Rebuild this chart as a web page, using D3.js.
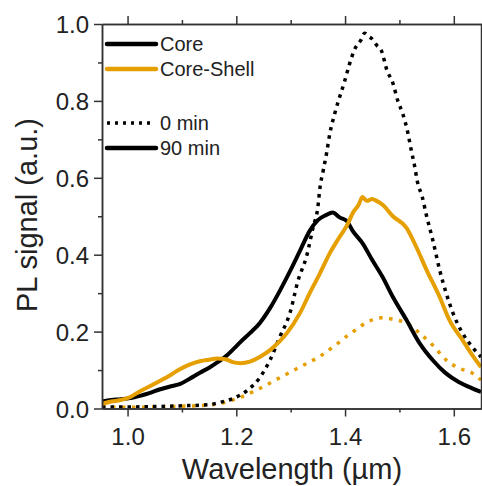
<!DOCTYPE html>
<html>
<head>
<meta charset="utf-8">
<script src="https://cdn.jsdelivr.net/npm/d3@7"></script>
<style>
  html, body { margin: 0; padding: 0; background: #fff; }
  svg { display: block; font-family: "Liberation Sans", Arial, sans-serif; }
</style>
</head>
<body>
<svg id="chart" width="482" height="486"></svg>
<script>
// ---- Data ----
const coreWl90 = [0.953,0.97,0.987,1.005,1.023,1.04,1.06,1.08,1.097,1.115,1.133,1.15,1.165,1.18,1.195,1.207,1.225,1.243,1.262,1.28,1.299,1.317,1.335,1.35,1.365,1.377,1.39,1.403,1.414,1.432,1.45,1.469,1.488,1.513,1.537,1.561,1.585,1.609,1.633,1.65];
const coreVal90 = [0.018,0.022,0.024,0.027,0.033,0.040,0.050,0.058,0.064,0.078,0.093,0.106,0.120,0.135,0.155,0.172,0.196,0.222,0.261,0.306,0.358,0.410,0.462,0.490,0.503,0.510,0.497,0.488,0.462,0.430,0.386,0.342,0.290,0.230,0.170,0.126,0.092,0.069,0.053,0.043];

const shellWl90 = [0.953,0.97,0.987,1.005,1.023,1.04,1.06,1.08,1.097,1.115,1.133,1.15,1.165,1.18,1.195,1.207,1.225,1.243,1.262,1.28,1.293,1.317,1.335,1.354,1.372,1.39,1.405,1.414,1.425,1.432,1.44,1.45,1.458,1.469,1.488,1.513,1.531,1.55,1.574,1.592,1.616,1.634,1.65];
const shellVal90 = [0.012,0.018,0.022,0.030,0.045,0.057,0.072,0.088,0.103,0.115,0.123,0.127,0.130,0.128,0.120,0.118,0.122,0.134,0.152,0.175,0.196,0.248,0.300,0.352,0.404,0.446,0.480,0.508,0.530,0.550,0.540,0.545,0.540,0.530,0.500,0.470,0.420,0.360,0.290,0.230,0.178,0.139,0.108];

const coreWl0 = [0.953,1.0,1.05,1.1,1.15,1.17,1.194,1.22,1.243,1.262,1.28,1.299,1.313,1.33,1.341,1.35,1.354,1.36,1.366,1.372,1.381,1.39,1.399,1.408,1.417,1.43,1.436,1.443,1.449,1.458,1.467,1.477,1.488,1.497,1.506,1.515,1.522,1.528,1.533,1.542,1.55,1.561,1.574,1.586,1.598,1.616,1.634,1.65];
const coreVal0 = [0.004,0.004,0.005,0.007,0.010,0.016,0.026,0.047,0.080,0.126,0.186,0.250,0.330,0.400,0.470,0.524,0.576,0.620,0.664,0.715,0.767,0.810,0.850,0.895,0.932,0.960,0.976,0.968,0.962,0.945,0.930,0.880,0.846,0.800,0.767,0.720,0.670,0.630,0.590,0.550,0.500,0.440,0.360,0.300,0.250,0.196,0.160,0.134];

const shellWl0 = [0.953,1.0,1.05,1.1,1.15,1.17,1.207,1.243,1.28,1.317,1.354,1.385,1.405,1.414,1.44,1.467,1.488,1.513,1.537,1.561,1.586,1.609,1.634,1.65];
const shellVal0 = [0.004,0.003,0.004,0.006,0.009,0.013,0.029,0.052,0.080,0.108,0.136,0.168,0.190,0.199,0.224,0.236,0.232,0.222,0.196,0.165,0.126,0.105,0.092,0.074];

const xMajorTicks = [1.0, 1.2, 1.4, 1.6];
const xMinorTicks = [1.1, 1.3, 1.5];
const yMajorTicks = [0.0, 0.2, 0.4, 0.6, 0.8, 1.0];
const yMinorTicks = [0.1, 0.3, 0.5, 0.7, 0.9];

const legendItems = ["Core", "Core-Shell", "0 min", "90 min"];
const ORANGE = "#E69F00";

// ---- Layout ----
const svg = d3.select("#chart");
const L = 102, T = 24, R = 481, B = 408.5;
const x = d3.scaleLinear().domain([0.953, 1.65]).range([L, R]);
const y = d3.scaleLinear().domain([0, 1.0]).range([B, T]);

svg.append("defs").append("clipPath").attr("id", "clip")
  .append("rect").attr("x", L).attr("y", T).attr("width", R - L).attr("height", B - T);

const line = d3.line().x(d => x(d[0])).y(d => y(d[1])).curve(d3.curveMonotoneX);
const zip = (a, b) => a.map((v, i) => [v, b[i]]);

const plot = svg.append("g").attr("clip-path", "url(#clip)");
plot.append("path").datum(zip(shellWl0, shellVal0))
  .attr("d", line).attr("fill", "none").attr("stroke", ORANGE)
  .attr("stroke-width", 3.5).attr("stroke-dasharray", "3.5,6.5");
plot.append("path").datum(zip(coreWl0, coreVal0))
  .attr("d", line).attr("fill", "none").attr("stroke", "#000")
  .attr("stroke-width", 3.5).attr("stroke-dasharray", "3.5,5");
plot.append("path").datum(zip(coreWl90, coreVal90))
  .attr("d", line).attr("fill", "none").attr("stroke", "#000")
  .attr("stroke-width", 4).attr("stroke-linejoin", "round");
plot.append("path").datum(zip(shellWl90, shellVal90))
  .attr("d", line).attr("fill", "none").attr("stroke", ORANGE)
  .attr("stroke-width", 4).attr("stroke-linejoin", "round");

// ---- Axes ----
const axisColor = "#333";
const textColor = "#222";
function style(g) {
  g.selectAll("path.domain").attr("stroke", axisColor).attr("stroke-width", 1.5);
  g.selectAll(".tick line").attr("stroke", axisColor).attr("stroke-width", 1.5);
}

const gx = svg.append("g").attr("transform", `translate(0,${B})`)
  .call(d3.axisBottom(x).tickValues(xMajorTicks).tickFormat(d3.format(".1f")).tickSize(8).tickSizeOuter(0));
gx.selectAll("text").attr("y", 36).attr("dy", 0).attr("font-size", 24)
  .attr("fill", textColor).attr("font-family", "Liberation Sans, Arial, sans-serif");
style(gx);
const gxm = svg.append("g").attr("transform", `translate(0,${B})`)
  .call(d3.axisBottom(x).tickValues(xMinorTicks).tickFormat("").tickSize(4).tickSizeOuter(0));
style(gxm);

const gt = svg.append("g").attr("transform", `translate(0,${T})`)
  .call(d3.axisTop(x).tickValues(xMajorTicks).tickFormat("").tickSize(8).tickSizeOuter(0));
style(gt);
const gtm = svg.append("g").attr("transform", `translate(0,${T})`)
  .call(d3.axisTop(x).tickValues(xMinorTicks).tickFormat("").tickSize(4).tickSizeOuter(0));
style(gtm);

const gy = svg.append("g").attr("transform", `translate(${L},0)`)
  .call(d3.axisLeft(y).tickValues(yMajorTicks).tickFormat(d3.format(".1f")).tickSize(8).tickSizeOuter(0));
gy.selectAll("text").attr("x", -13).attr("dy", "0.36em").attr("font-size", 24)
  .attr("fill", textColor).attr("font-family", "Liberation Sans, Arial, sans-serif");
style(gy);
const gym = svg.append("g").attr("transform", `translate(${L},0)`)
  .call(d3.axisLeft(y).tickValues(yMinorTicks).tickFormat("").tickSize(4).tickSizeOuter(0));
style(gym);

const gr = svg.append("g").attr("transform", `translate(${R},0)`)
  .call(d3.axisRight(y).tickValues(yMajorTicks).tickFormat("").tickSize(8).tickSizeOuter(0));
style(gr);

// ---- Axis titles ----
svg.append("text").attr("x", 292).attr("y", 479).attr("text-anchor", "middle")
  .attr("font-size", 29).attr("fill", textColor).text("Wavelength (\u00b5m)");
svg.append("text").attr("transform", "translate(37,215) rotate(-90)")
  .attr("text-anchor", "middle").attr("font-size", 29).attr("fill", textColor)
  .text("PL signal (a.u.)");

// ---- Legend ----
const legY = [44, 69, 123, 148];
const legStroke = ["#000", ORANGE, "#000", "#000"];
const legDash = [null, null, "3,5", null];
const legX2 = [156, 156, 150, 156];
const lg = svg.append("g");
legendItems.forEach((name, i) => {
  lg.append("line").attr("x1", 107).attr("x2", legX2[i]).attr("y1", legY[i]).attr("y2", legY[i])
    .attr("stroke", legStroke[i]).attr("stroke-width", legDash[i] ? 3.5 : 4.5)
    .attr("stroke-linecap", legDash[i] ? "butt" : "round")
    .attr("stroke-dasharray", legDash[i]);
  lg.append("text").attr("x", 160).attr("y", legY[i]).attr("dy", "0.35em")
    .attr("font-size", 20).attr("fill", textColor).text(name);
});
</script>
</body>
</html>
